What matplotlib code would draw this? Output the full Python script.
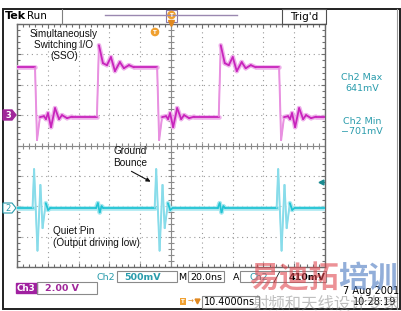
import numpy as np
import matplotlib.pyplot as plt
from matplotlib.collections import LineCollection
from matplotlib.patches import Rectangle, Polygon, Circle

W, H = 402, 311

# values: time in ns (20 ns/div, screen 0..200 ns), volts
ch3_fall_t = [11.7, 91.0, 170.2]
ch3_rise_t = [51.9, 131.0]
ch3_high = 3.15
ch3_low = -0.10
ch3_fall_dt = [0.0, 1.3, 3.2, 5.8, 7.1, 8.4, 10.4, 13.0, 15.6, 17.5, 20.8, 24.0]
ch3_fall_v = [3.15, -1.64, -0.13, -0.07, -0.26, 0.13, -0.79, 0.46, -0.26, 0.0, -0.20, -0.10]
ch3_rise_dt = [0.0, 1.3, 3.9, 6.5, 9.1, 11.7, 14.9, 17.5, 20.8, 24.0]
ch3_rise_v = [-0.10, 4.60, 3.42, 3.29, 3.82, 2.90, 3.49, 3.09, 3.29, 3.15]

ch2_fall_dt = [-1.6, -0.6, 1.6, 3.5, 4.9, 7.0, 8.5, 10.0]
ch2_fall_v = [0.0, 0.64, -0.70, 0.38, -0.33, 0.08, -0.03, 0.0]
ch2_rise_dt = [-0.6, 0.6, 1.8, 3.0, 4.2]
ch2_rise_v = [0.0, 0.08, -0.07, 0.03, 0.0]

ch3_scale, ch3_pos = 2.0, 1.0    # V/div, ground marker (div)
ch2_scale, ch2_pos = 0.5, -2.06

TEAL = '#2a9cac'
MAG = '#a0289a'


def build(falls, rises, fdt, fv, rdt, rv, v0, v1):
    ev = sorted([(t, fdt, fv) for t in falls] + [(t, rdt, rv) for t in rises])
    t, v = [0.0], [v0]
    for t0, dts, vs in ev:
        t += [t0 + d for d in dts]
        v += list(vs)
    t.append(200.0)
    v.append(v1)
    return np.array(t), np.array(v)


def draw_trace(ax, t, y, core, halo, thin):
    pts = np.column_stack([t, y])
    segs = np.stack([pts[:-1], pts[1:]], axis=1)
    steep = np.abs(np.diff(y) / np.diff(t)) > 0.3
    ax.add_collection(LineCollection(segs, linewidths=np.where(steep, 1.4, 3.3),
                                     colors=[thin if s else halo for s in steep],
                                     capstyle='round', zorder=3))
    ax.add_collection(LineCollection(segs, linewidths=np.where(steep, 0.8, 1.3),
                                     colors=[thin if s else core for s in steep],
                                     capstyle='round', zorder=4))


fig = plt.figure(figsize=(W / 100, H / 100), dpi=100)
fig.patch.set_facecolor('white')

# graticule
ax = fig.add_axes([17 / W, 1 - 267 / H, 308 / W, 243 / H])
ax.set_xlim(0, 200)
ax.set_ylim(-4, 4)
ax.set_xticks(np.arange(0, 201, 20))
ax.set_yticks(np.arange(-4, 5, 1))
ax.set_xticks(np.arange(0, 201, 4), minor=True)
ax.set_yticks(np.arange(-4, 4.01, 0.2), minor=True)
ax.tick_params(which='both', direction='in', top=True, right=True,
               labelbottom=False, labelleft=False, color='#707070', width=0.8)
ax.tick_params(which='major', length=3)
ax.tick_params(which='minor', length=2.2)
ax.grid(True, which='major', color='#9a9a9a', linestyle=(0, (1, 3.3)), linewidth=0.8)
for s in ax.spines.values():
    s.set_color('#6a6a6a')
    s.set_linewidth(1.0)
ax.axhline(0, color='#8a8a8a', lw=0.8, zorder=2)
ax.axvline(100, color='#8a8a8a', lw=0.8, zorder=2)
ax.plot(np.arange(0, 200.1, 4), np.zeros(51), ls='none', marker='|', ms=5, mew=0.8, color='#8a8a8a')
ax.plot(np.full(41, 100.0), np.arange(-4, 4.01, 0.2), ls='none', marker='_', ms=5, mew=0.8, color='#8a8a8a')

t3, v3 = build(ch3_fall_t, ch3_rise_t, ch3_fall_dt, ch3_fall_v, ch3_rise_dt, ch3_rise_v, ch3_high, ch3_low)
draw_trace(ax, t3, v3 / ch3_scale + ch3_pos, '#c824bc', '#eeb0ea', '#e890e0')
t2, v2 = build(ch3_fall_t, ch3_rise_t, ch2_fall_dt, ch2_fall_v, ch2_rise_dt, ch2_rise_v, 0.0, 0.0)
draw_trace(ax, t2, v2 / ch2_scale + ch2_pos, '#22c4d4', '#a8e8f0', '#88dcea')

# screen overlay in pixel coordinates
ov = fig.add_axes([0, 0, 1, 1], zorder=5)
ov.set_xlim(0, W)
ov.set_ylim(H, 0)
ov.axis('off')

ov.add_patch(Rectangle((3, 9), 397, 300, fill=False, ec='#202020', lw=1.4))
ov.plot([397.5, 397.5], [9, 309], color='#9a9a9a', lw=0.8)

# top bar
ov.text(5, 16, 'Tek', fontsize=8, fontweight='bold', va='center')
ov.text(27, 16, 'Run', fontsize=7.5, va='center')
ov.plot([62, 62], [9, 24], color='#808080', lw=0.8)
ov.plot([105, 237], [15, 15], color='#9a88b0', lw=1.0)
ov.add_patch(Rectangle((166, 10), 11, 12, fill=False, ec='#8878a8', lw=0.8))
ov.add_patch(Circle((171.5, 15), 3.6, color='#f0a030'))
ov.text(171.5, 15.3, 'T', fontsize=4, color='white', fontweight='bold', ha='center', va='center')
ov.plot([171.5], [22.5], marker='v', ms=4, color='#e08820')
ov.add_patch(Rectangle((282, 9), 44, 15, fill=False, ec='#505050', lw=0.8))
ov.text(304, 16.5, "Trig'd", fontsize=7.5, ha='center', va='center')

# channel markers
ov.add_patch(Polygon([(3, 110), (12, 110), (16, 115), (12, 120), (3, 120)], fc=MAG, ec=MAG))
ov.text(8.5, 115.3, '3', fontsize=6, color='white', fontweight='bold', ha='center', va='center')
ov.add_patch(Polygon([(3, 203), (12, 203), (16, 208), (12, 213), (3, 213)], fc='white', ec=TEAL, lw=0.8))
ov.text(8.5, 208.3, '2', fontsize=6, color=TEAL, ha='center', va='center')
ov.plot([321], [182], marker='<', ms=3.5, color='#1a8a90')
ov.add_patch(Circle((155, 32), 3.6, color='#f0a030'))
ov.text(155, 32.3, 'T', fontsize=4, color='white', fontweight='bold', ha='center', va='center')

# annotations
note = dict(fontsize=7.2, family='Liberation Sans', color='#101010', va='center')
ov.text(64, 45, 'Simultaneously\nSwitching I/O\n(SSO)', ha='center', linespacing=1.15, **note)
ov.text(130, 157, 'Ground\nBounce', ha='center', linespacing=1.15, **note)
ov.annotate('', xy=(153, 183), xytext=(129, 170),
            arrowprops=dict(arrowstyle='-|>', color='#101010', lw=0.8, mutation_scale=6))
ov.text(53, 237, 'Quiet Pin\n(Output driving low)', ha='left', linespacing=1.15, **note)

# measurements
for y, s in [(78, 'Ch2 Max'), (88.5, '641mV'), (122, 'Ch2 Min'), (131.5, '\u2212701mV')]:
    ov.text(362, y, s, fontsize=6.8, color=TEAL, ha='center', va='center')

# bottom readouts
box = dict(fill=False, ec='#8a8a8a', lw=0.8)
ov.text(106, 277, 'Ch2', fontsize=6.8, color=TEAL, ha='center', va='center')
ov.add_patch(Rectangle((117, 271), 60, 11, **box))
ov.text(143, 277, '500mV', fontsize=6.8, color=TEAL, fontweight='bold', ha='center', va='center')
ov.text(182.5, 277, 'M', fontsize=6.8, ha='center', va='center')
ov.add_patch(Rectangle((188, 271), 36, 11, **box))
ov.text(206, 277, '20.0ns', fontsize=6.8, ha='center', va='center')
ov.text(236, 277, 'A', fontsize=6.8, ha='center', va='center')
ov.add_patch(Rectangle((240, 271), 86, 11, **box))
ov.text(259, 277, 'Ch2', fontsize=6.8, color=TEAL, ha='center', va='center')
ov.text(276, 277, '\u2571', fontsize=6.8, ha='center', va='center')
ov.text(307, 277, '410mV', fontsize=6.8, fontweight='bold', ha='center', va='center')

ov.add_patch(Rectangle((16, 283), 21, 10, fc='#a020a0', ec='#a020a0'))
ov.text(26.5, 288.3, 'Ch3', fontsize=6.3, color='white', fontweight='bold', ha='center', va='center')
ov.add_patch(Rectangle((37, 282), 60, 12, **box))
ov.text(62, 288.3, '2.00 V', fontsize=6.8, color=MAG, fontweight='bold', ha='center', va='center')
ov.text(399, 291, '7 Aug 2001', fontsize=7, ha='right', va='center')

ov.add_patch(Rectangle((180, 298), 6, 7, fc='#f0a030', ec='none'))
ov.text(183, 301.8, 'T', fontsize=4, color='white', fontweight='bold', ha='center', va='center')
ov.text(190.5, 301.5, '\u2192', fontsize=5, color='#e08820', ha='center', va='center')
ov.plot([197], [301], marker='v', ms=3.5, color='#e08820')
ov.add_patch(Rectangle((202, 296), 57, 12, **box))
ov.text(230, 302.3, '10.4000ns', fontsize=7, ha='center', va='center')
ov.text(396, 302.3, '10:28:19', fontsize=7, ha='right', va='center')

# watermark
cjk = ['Noto Sans CJK SC', 'DejaVu Sans']
ov.text(249, 278, '易迪拓', family=cjk, fontsize=21.5, fontweight='bold', color='#e04850',
        alpha=0.6, ha='left', va='center', zorder=10)
ov.text(398, 278, '培训', family=cjk, fontsize=21.5, fontweight='bold', color='#4a78c0',
        alpha=0.6, ha='right', va='center', zorder=10)
ov.text(253, 304, '射频和天线设计专家', family=cjk, fontsize=11.8, color='#808080',
        alpha=0.5, ha='left', va='center', zorder=10)

fig.savefig('out.png', dpi=100, facecolor='white')
